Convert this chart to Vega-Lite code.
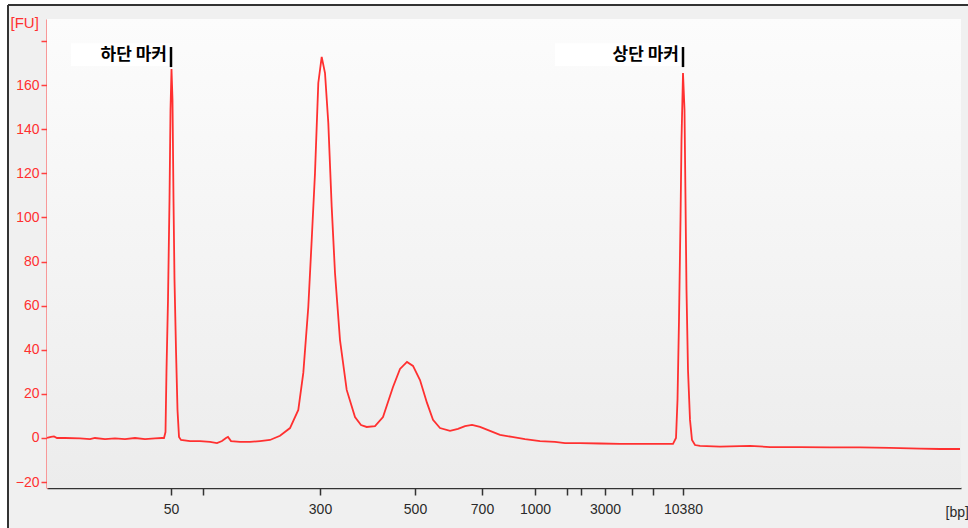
{
  "$schema": "https://vega.github.io/schema/vega-lite/v6.json",
  "width": 914,
  "height": 469,
  "autosize": {"type": "none"},
  "padding": {"left": 47, "top": 19, "right": 7, "bottom": 40},
  "background": "#f0f0f0",
  "config": {"view": {"stroke": null}, "font": "Liberation Sans"},
  "data": {"values": [{}]},
  "datasets": {
    "trace": [
      {"t": 20.0, "fu": 0}, {"t": 20.4, "fu": 0.5}, {"t": 20.7, "fu": 0.7}, {"t": 21.0, "fu": 0},
      {"t": 21.8, "fu": 0}, {"t": 23.3, "fu": -0.2}, {"t": 24.3, "fu": -0.5}, {"t": 24.8, "fu": 0},
      {"t": 25.8, "fu": -0.5}, {"t": 26.8, "fu": -0.2}, {"t": 27.8, "fu": -0.5}, {"t": 28.8, "fu": 0},
      {"t": 29.8, "fu": -0.5}, {"t": 30.8, "fu": -0.2}, {"t": 31.5, "fu": 0}, {"t": 31.7, "fu": 0},
      {"t": 31.85, "fu": 2.7}, {"t": 31.95, "fu": 30.8}, {"t": 32.1, "fu": 62.6}, {"t": 32.25, "fu": 107.9},
      {"t": 32.35, "fu": 148.8}, {"t": 32.45, "fu": 167.3}, {"t": 32.55, "fu": 153.3}, {"t": 32.65, "fu": 107.9},
      {"t": 32.75, "fu": 71.7}, {"t": 32.9, "fu": 39.9}, {"t": 33.05, "fu": 12.7}, {"t": 33.2, "fu": 0.5},
      {"t": 33.4, "fu": -0.9}, {"t": 34.3, "fu": -1.4}, {"t": 35.3, "fu": -1.4}, {"t": 36.3, "fu": -1.8},
      {"t": 37.0, "fu": -2.3}, {"t": 37.5, "fu": -1.4}, {"t": 37.9, "fu": 0}, {"t": 38.1, "fu": 0.5},
      {"t": 38.4, "fu": -1.4}, {"t": 39.3, "fu": -1.8}, {"t": 40.3, "fu": -1.8}, {"t": 41.3, "fu": -1.4},
      {"t": 42.3, "fu": -0.9}, {"t": 43.3, "fu": 1.0}, {"t": 44.3, "fu": 4.5}, {"t": 45.13, "fu": 12.7},
      {"t": 45.63, "fu": 29.5}, {"t": 46.13, "fu": 59.4}, {"t": 46.47, "fu": 89.8}, {"t": 46.8, "fu": 120.2},
      {"t": 47.13, "fu": 161}, {"t": 47.47, "fu": 172.8}, {"t": 47.8, "fu": 165.5}, {"t": 48.13, "fu": 142.9},
      {"t": 48.47, "fu": 104.8}, {"t": 48.8, "fu": 74.8}, {"t": 49.3, "fu": 44.4}, {"t": 49.97, "fu": 21.8},
      {"t": 50.8, "fu": 9.5}, {"t": 51.4, "fu": 5.9}, {"t": 51.97, "fu": 5.0}, {"t": 52.8, "fu": 5.4},
      {"t": 53.6, "fu": 9.5}, {"t": 54.6, "fu": 23.1}, {"t": 55.3, "fu": 31.3}, {"t": 56.0, "fu": 34.5},
      {"t": 56.6, "fu": 32.7}, {"t": 57.3, "fu": 26.3}, {"t": 58.0, "fu": 15.9}, {"t": 58.6, "fu": 8.2},
      {"t": 59.3, "fu": 4.5}, {"t": 60.3, "fu": 3.2}, {"t": 61.1, "fu": 4.1}, {"t": 61.8, "fu": 5.4},
      {"t": 62.5, "fu": 5.9}, {"t": 63.3, "fu": 5.0}, {"t": 64.3, "fu": 3.2}, {"t": 65.3, "fu": 1.4},
      {"t": 66.5, "fu": 0.5}, {"t": 67.8, "fu": -0.5}, {"t": 69.3, "fu": -1.4}, {"t": 70.8, "fu": -1.8},
      {"t": 71.8, "fu": -2.3}, {"t": 73.3, "fu": -2.3}, {"t": 75.3, "fu": -2.5}, {"t": 77.3, "fu": -2.7},
      {"t": 79.3, "fu": -2.7}, {"t": 80.8, "fu": -2.7}, {"t": 81.8, "fu": -2.7}, {"t": 82.6, "fu": -2.7},
      {"t": 82.9, "fu": 0}, {"t": 83.05, "fu": 17.2}, {"t": 83.2, "fu": 53.5}, {"t": 83.35, "fu": 98.9},
      {"t": 83.45, "fu": 135.1}, {"t": 83.6, "fu": 165.5}, {"t": 83.75, "fu": 148.8}, {"t": 83.85, "fu": 107.9},
      {"t": 83.95, "fu": 67.1}, {"t": 84.1, "fu": 30.8}, {"t": 84.3, "fu": 8.2}, {"t": 84.5, "fu": -0.9},
      {"t": 84.8, "fu": -3.2}, {"t": 85.3, "fu": -3.6}, {"t": 87.3, "fu": -3.9}, {"t": 90.3, "fu": -3.6},
      {"t": 92.3, "fu": -4.1}, {"t": 95.3, "fu": -4.1}, {"t": 98.3, "fu": -4.3}, {"t": 101.3, "fu": -4.3},
      {"t": 104.3, "fu": -4.5}, {"t": 107.3, "fu": -4.8}, {"t": 109.3, "fu": -5.0}, {"t": 111.3, "fu": -5.0}
    ],
    "markers": [
      {"label": "하단 마커", "t": 32.4},
      {"label": "상단 마커", "t": 83.6}
    ]
  },
  "layer": [
    {
      "mark": {"type": "rect", "color": {"gradient": "linear", "x1": 0, "y1": 0, "x2": 0, "y2": 1, "stops": [{"offset": 0, "color": "#fcfcfc"}, {"offset": 1, "color": "#ececec"}]}},
      "encoding": {
        "x": {"datum": 20, "type": "quantitative"},
        "x2": {"datum": 111.4},
        "y": {"datum": 190, "type": "quantitative"},
        "y2": {"datum": -22.68}
      }
    },
    {
      "mark": {"type": "rect", "color": "white"},
      "encoding": {
        "x": {"datum": 15, "type": "quantitative"},
        "x2": {"datum": 16.1},
        "y": {"datum": 215, "type": "quantitative"},
        "y2": {"datum": -45}
      }
    },
    {
      "mark": {"type": "rect", "color": "white"},
      "encoding": {
        "x": {"datum": 15, "type": "quantitative"},
        "x2": {"datum": 116},
        "y": {"datum": 215, "type": "quantitative"},
        "y2": {"datum": 196.4}
      }
    },
    {
      "mark": {"type": "rule", "color": "#333333", "strokeWidth": 2},
      "encoding": {
        "x": {"datum": 16.1, "type": "quantitative"},
        "y": {"datum": 196.4, "type": "quantitative"},
        "y2": {"datum": -45}
      }
    },
    {
      "mark": {"type": "rule", "color": "#333333", "strokeWidth": 2},
      "encoding": {
        "x": {"datum": 16.1, "type": "quantitative"},
        "x2": {"datum": 116},
        "y": {"datum": 196.4, "type": "quantitative"}
      }
    },
    {
      "mark": {"type": "rect", "color": "white"},
      "encoding": {
        "x": {"datum": 22.4, "type": "quantitative"},
        "x2": {"datum": 32.3},
        "y": {"datum": 179, "type": "quantitative"},
        "y2": {"datum": 168.7}
      }
    },
    {
      "mark": {"type": "rect", "color": "white"},
      "encoding": {
        "x": {"datum": 70.8, "type": "quantitative"},
        "x2": {"datum": 83.5},
        "y": {"datum": 179, "type": "quantitative"},
        "y2": {"datum": 168.7}
      }
    },
    {
      "data": {"name": "trace"},
      "mark": {"type": "line", "color": "#ff3030", "strokeWidth": 1.8, "interpolate": "linear"},
      "encoding": {
        "x": {
          "field": "t",
          "type": "quantitative",
          "scale": {"domain": [20, 111.4], "nice": false, "zero": false},
          "axis": {
            "values": [32.4, 35.6, 47.3, 56.8, 63.5, 68.8, 72.0, 73.4, 75.8, 78.5, 80.6, 83.6],
            "labelExpr": "datum.value == 32.4 ? '50' : datum.value == 47.3 ? '300' : datum.value == 56.8 ? '500' : datum.value == 63.5 ? '700' : datum.value == 68.8 ? '1000' : datum.value == 75.8 ? '3000' : datum.value == 83.6 ? '10380' : ''",
            "grid": false,
            "domainColor": "#333333",
            "domainWidth": 1.5,
            "tickColor": "#333333",
            "tickWidth": 1.5,
            "tickSize": 7,
            "labelColor": "#2a2a2a",
            "labelFontSize": 14,
            "labelPadding": 7,
            "labelFlush": false,
            "labelOverlap": false,
            "title": "[bp]",
            "titleX": 898,
            "titleY": 28,
            "titleAlign": "left",
            "titleBaseline": "alphabetic",
            "titleFontWeight": "normal",
            "titleFontSize": 14,
            "titleColor": "#2a2a2a"
          }
        },
        "y": {
          "field": "fu",
          "type": "quantitative",
          "scale": {"domain": [-22.68, 190], "nice": false, "zero": false},
          "axis": {
            "values": [-20, 0, 20, 40, 60, 80, 100, 120, 140, 160, 180],
            "labelExpr": "datum.value == 180 ? '' : datum.label",
            "grid": false,
            "domainColor": "#ff4040",
            "domainWidth": 2,
            "tickColor": "#ff4040",
            "tickWidth": 1.5,
            "tickSize": 6,
            "labelColor": "#ff3030",
            "labelFontSize": 14,
            "labelPadding": 2,
            "title": "[FU]",
            "titleAngle": 0,
            "titleAlign": "left",
            "titleBaseline": "alphabetic",
            "titleX": -37,
            "titleY": 8,
            "titleFontWeight": "normal",
            "titleFontSize": 15,
            "titleColor": "#ff3030"
          }
        }
      }
    },
    {
      "data": {"name": "markers"},
      "mark": {"type": "rule", "color": "black", "strokeWidth": 2.5},
      "encoding": {
        "x": {"field": "t", "type": "quantitative"},
        "y": {"datum": 177.3, "type": "quantitative"},
        "y2": {"datum": 168.2}
      }
    },
    {
      "data": {"name": "markers"},
      "mark": {"type": "text", "align": "right", "baseline": "middle", "dx": -4, "font": "Noto Sans CJK KR", "fontWeight": "bold", "fontSize": 17, "color": "black"},
      "encoding": {
        "x": {"field": "t", "type": "quantitative"},
        "y": {"datum": 173.5, "type": "quantitative"},
        "text": {"field": "label"}
      }
    }
  ]
}
